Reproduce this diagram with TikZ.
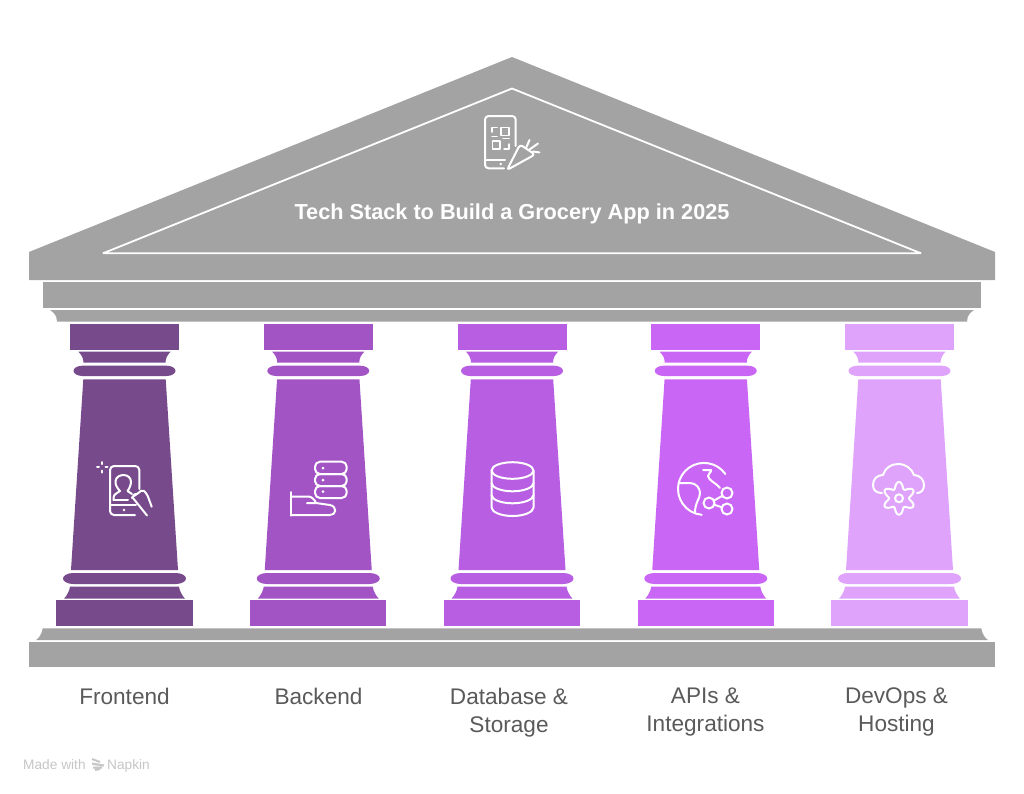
\documentclass[tikz,border=0pt]{standalone}
\usepackage{fontspec}
\setmainfont{Liberation Sans}
\definecolor{roofgray}{HTML}{A3A3A3}
\definecolor{colA}{HTML}{774A8C}
\definecolor{colB}{HTML}{A254C5}
\definecolor{colC}{HTML}{B75EE3}
\definecolor{colD}{HTML}{CA66F5}
\definecolor{colE}{HTML}{DFA3FB}
\definecolor{labelgray}{HTML}{5A5A5A}
\definecolor{markgray}{HTML}{C6C6C6}
\tikzset{
  ic/.style={draw=white,line width=2pt,line cap=round,line join=round,fill=none},
  dotw/.style={fill=white,draw=none},
  lbl/.style={text=labelgray,align=center,font=\fontsize{22.6}{28}\selectfont,inner sep=0pt},
}
\begin{document}
\begin{tikzpicture}[x=1pt,y=-1pt]
\useasboundingbox (0,0) rectangle (1024,793);
\fill[white] (0,0) rectangle (1024,793);
% temple roof and entablature
\fill[roofgray] (29,252) -- (512,57) -- (995,252) -- (995,280) -- (29,280) -- cycle;
\draw[white,line width=1.8pt,line join=miter,miter limit=2] (103,253.3) -- (512,88.5) -- (921,253.3) -- cycle;
\fill[roofgray] (43,282) rectangle (981,307.5);
\fill[roofgray] (50,310) -- (974,310) .. controls (971,312) and (967,315) .. (967,321.5) -- (57,321.5) .. controls (57,315) and (53,312) .. (50,310) -- cycle;
% base
\fill[roofgray] (42.7,628.3) -- (981.3,628.3) .. controls (982,634) and (985,638) .. (988,640) -- (36,640) .. controls (39,638) and (42,634) .. (42.7,628.3) -- cycle;
\fill[roofgray] (29,642) rectangle (995,667);
% columns
\foreach \cx/\cc in {124.5/colA,318.25/colB,512/colC,705.75/colD,899.5/colE}{
\begin{scope}[xshift=\cx pt,fill=\cc]
  \fill (-54.5,324) rectangle (54.5,349.5);
  \fill (-46,351.7) -- (46,351.7) .. controls (43,355) and (41,358) .. (41,362.7) -- (-41,362.7) .. controls (-41,358) and (-43,355) .. (-46,351.7) -- cycle;
  \fill (-42,365.7) -- (42,365.7) .. controls (47,365.7) and (51,368) .. (51,370.8) .. controls (51,373.6) and (47,376) .. (42,376) -- (-42,376) .. controls (-47,376) and (-51,373.6) .. (-51,370.8) .. controls (-51,368) and (-47,365.7) .. (-42,365.7) -- cycle;
  \fill (-41.2,379.3) -- (41.2,379.3) -- (53.5,570) -- (-53.5,570) -- cycle;
  \fill (-51,573) -- (51,573) .. controls (57,573) and (61.5,575.5) .. (61.5,578.5) .. controls (61.5,581.5) and (57,584) .. (51,584) -- (-51,584) .. controls (-57,584) and (-61.5,581.5) .. (-61.5,578.5) .. controls (-61.5,575.5) and (-57,573) .. (-51,573) -- cycle;
  \fill (-54.5,586.7) -- (54.5,586.7) .. controls (55,591) and (58,596) .. (60.5,598.7) -- (-60.5,598.7) .. controls (-58,596) and (-55,591) .. (-54.5,586.7) -- cycle;
  \fill (-68.2,600.3) rectangle (68.2,625.7);
\end{scope}}
% roof icon: phone with QR code and carrot
\draw[ic,rounded corners=3.5pt] (504,168.3) -- (485,168.3) -- (485,116) -- (515.7,116) -- (515.7,146);
\draw[ic] (485,160) -- (505,160);
\fill[dotw] (500.7,164) circle (1.4);
\draw[ic,line width=1.5pt] (492,132) -- (492,127.7) -- (497,127.7);
\draw[ic,line width=1.5pt] (501,127.7) rectangle (509,135.7);
\draw[ic,line width=1.5pt] (492.3,141) rectangle (500,149);
\draw[ic,line width=1.5pt] (509,144) -- (509,149) -- (504,149);
\draw[ic,line width=1.5pt] (492,136.5) -- (497,136.5);
\draw[ic,line width=1.5pt] (503,138.5) -- (509,138.5);
\draw[ic,rounded corners=3pt] (507,170) -- (520,144.5) -- (535,154.5) -- cycle;
\draw[ic] (526.5,147) -- (529.5,140);
\draw[ic] (529.5,149.5) -- (538,143.5);
\draw[ic] (533,151.5) -- (539.5,152.5);
% frontend icon
\draw[ic,rounded corners=4pt] (135,515) -- (110,515) -- (110,466) -- (139.3,466) -- (139.3,489);
\draw[ic] (110,505) -- (136,505);
\fill[dotw] (124,510) circle (1.4);
\draw[ic] (99,467.3) -- (97,467.3) (105.5,467.3) -- (107.5,467.3) (102.3,464) -- (102.3,462) (102.3,470.5) -- (102.3,472.5);
\draw[ic] (113.5,500) -- (113.5,497.5) .. controls (114,493.5) and (118,493) .. (120,491) .. controls (117,488) and (115,484) .. (115.5,481) .. controls (116,477) and (120,475) .. (123.5,475) .. controls (128,475) and (131,478) .. (131,482) .. controls (131,485) and (129,489) .. (127.5,491) .. controls (129,492.5) and (130,493) .. (132,494);
\draw[ic] (113.5,500) -- (128,500);
\draw[ic,rounded corners=2pt] (132,498) -- (134,494.5) -- (136,495) -- (142.5,489.5) -- (147,494) -- (151.7,506.7);
\draw[ic] (133,498) -- (147,515.5);
% backend icon
\draw[ic,rounded corners=5pt] (315,461.7) rectangle (346.7,474);
\draw[ic,rounded corners=5pt] (315,474) rectangle (346.7,486);
\draw[ic,rounded corners=5pt] (315,486) rectangle (346.7,498);
\fill[dotw] (323,468) circle (1.5) (323,480) circle (1.5) (323,491.5) circle (1.5);
\draw[ic] (291,492) -- (291,515.5);
\draw[ic] (291,496.5) -- (309,496.5) .. controls (312,497) and (315,500) .. (316,503) -- (307,503);
\draw[ic] (316,503) -- (330,505) .. controls (334,506) and (335,508) .. (335,510) -- (335,511) .. controls (335,513) and (333,515) .. (330,515) -- (291,515);
% database icon
\draw[ic] (512.5,470.5) ellipse [x radius=21,y radius=8.3];
\draw[ic] (491.5,470.5) -- (491.5,507.5) .. controls (491.5,512) and (501,516) .. (512.5,516) .. controls (524,516) and (533.5,512) .. (533.5,507.5) -- (533.5,470.5);
\draw[ic] (491.5,483) .. controls (491.5,487.5) and (501,491.3) .. (512.5,491.3) .. controls (524,491.3) and (533.5,487.5) .. (533.5,483);
\draw[ic] (491.5,495) .. controls (491.5,499.5) and (501,503.3) .. (512.5,503.3) .. controls (524,503.3) and (533.5,499.5) .. (533.5,495);
% globe icon
\draw[ic] (725.3,474) arc [start angle=-35,end angle=-265,radius=26];
\draw[ic] (679,483) -- (690,483) .. controls (696,483) and (700,488) .. (700,493) .. controls (700,499) and (695,502) .. (695,513);
\draw[ic] (703,470) -- (711,470) .. controls (712,472) and (708,473) .. (708,476) .. controls (709,481) and (715,482) .. (720,488);
\draw[ic] (727,493) circle (5.5);
\draw[ic] (709,503) circle (5.5);
\draw[ic] (727,509) circle (5.5);
\draw[ic] (722,496) -- (714,500.5);
\draw[ic] (714.3,504.8) -- (721.7,507.2);
% cloud and gear icon
\draw[ic] (882,493) .. controls (876,493) and (873,490) .. (873,485) .. controls (873,479) and (877,475) .. (883,475) .. controls (885,468) and (891,464) .. (898,464) .. controls (906,464) and (912,469) .. (914,475) .. controls (920,475) and (924,480) .. (924,485) .. controls (924,490) and (921,493) .. (917,493);
\draw[ic,smooth] plot[domain=0:354,samples=60] ({899+(13.2+3.3*cos(6*\x))*sin(\x)},{498.3-(13.2+3.3*cos(6*\x))*cos(\x)}) -- cycle;
\draw[ic] (899,498.3) circle (4);
% texts
\node (title) at (512,213.5) {\fontsize{21.7}{24}\selectfont\bfseries\color{white}Tech Stack to Build a Grocery App in 2025};
\node[lbl] (l1) at (124.5,696.5) {Frontend};
\node[lbl] (l2) at (318.5,696.5) {Backend};
\node[lbl,anchor=north] (l3) at (509,687.5) {Database \&\\Storage};
\node[lbl,anchor=north] (l4) at (705.5,687.5) {APIs \&\\Integrations};
\node[lbl,anchor=north] (l5) at (896.5,687.5) {DevOps \&\\Hosting};
\node[text=markgray,font=\fontsize{13.7}{16}\selectfont,anchor=base west,inner sep=0pt] (m1) at (23,769) {Made with};
\node[text=markgray,font=\fontsize{13.7}{16}\selectfont,anchor=base west,inner sep=0pt] (m2) at (107,769) {Napkin};
\draw[markgray,line width=2pt] (92,759) -- (100,762) (92,763.5) -- (104,765.5) -- (93,764) (93,767.5) -- (102,767.5) (95,770) -- (100,769);
\end{tikzpicture}
\end{document}
